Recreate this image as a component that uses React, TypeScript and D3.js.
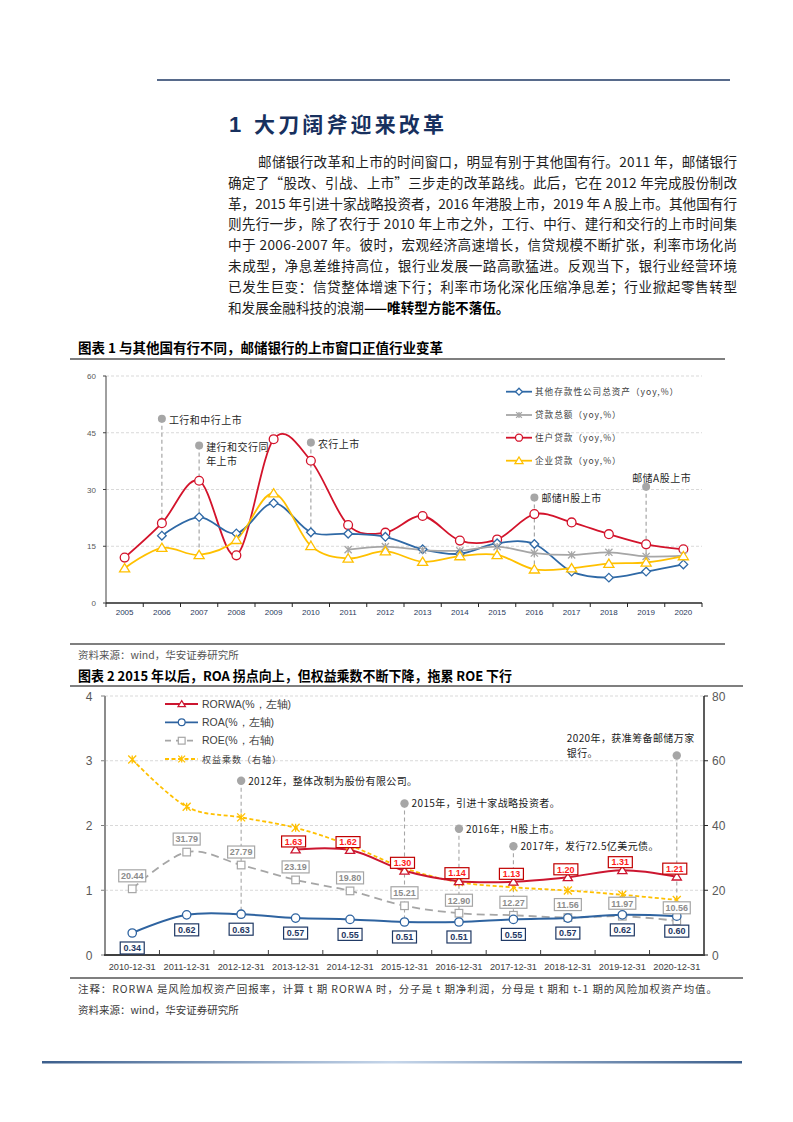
import React from 'react';
import * as d3 from 'd3';

// ---------- Figure 1 data ----------
const years = ['2005','2006','2007','2008','2009','2010','2011','2012','2013','2014','2015','2016','2017','2018','2019','2020'];
const assetsGrowth: (number | null)[] = [null, 17.8, 22.7, 18.4, 26.4, 18.7, 18.3, 17.5, 14.2, 13.0, 15.8, 15.6, 8.3, 6.7, 8.3, 10.2];
const totalLoanGrowth: (number | null)[] = [null, null, null, null, null, null, 14.1, 14.9, 14.0, 13.8, 14.9, 13.2, 12.7, 13.4, 12.3, 12.5];
const householdLoanGrowth: (number | null)[] = [12.0, 21.1, 32.3, 12.6, 43.3, 37.6, 20.6, 18.6, 23.0, 16.5, 16.8, 23.5, 21.3, 18.2, 15.5, 14.2];
const corporateLoanGrowth: (number | null)[] = [9.2, 14.6, 12.7, 16.7, 29.0, 15.1, 11.8, 13.7, 10.9, 12.4, 12.7, 8.9, 9.2, 10.4, 10.7, 12.4];
const yTicks1 = [0, 15, 30, 45, 60];
const legend1 = ['其他存款性公司总资产（yoy,%）', '贷款总额（yoy,%）', '住户贷款（yoy,%）', '企业贷款（yoy,%）'];
const events1 = [
  { year: '2006', dot: 48.7, end: 17.8, lines: ['工行和中行上市'], pos: 'right' },
  { year: '2007', dot: 41.6, end: 12.7, lines: ['建行和交行同', '年上市'], pos: 'right' },
  { year: '2010', dot: 42.4, end: 15.1, lines: ['农行上市'], pos: 'right' },
  { year: '2016', dot: 27.9, end: 8.9, lines: ['邮储H股上市'], pos: 'right' },
  { year: '2019', dot: 30.7, end: 10.7, lines: ['邮储A股上市'], pos: 'above' },
];

// ---------- Figure 2 data ----------
const dates = ['2010-12-31','2011-12-31','2012-12-31','2013-12-31','2014-12-31','2015-12-31','2016-12-31','2017-12-31','2018-12-31','2019-12-31','2020-12-31'];
const rorwa: (number | null)[] = [null, null, null, 1.63, 1.62, 1.30, 1.14, 1.13, 1.20, 1.31, 1.21];
const roa: number[] = [0.34, 0.62, 0.63, 0.57, 0.55, 0.51, 0.51, 0.55, 0.57, 0.62, 0.60];
const roe: number[] = [20.44, 31.79, 27.79, 23.19, 19.80, 15.21, 12.90, 12.27, 11.56, 11.97, 10.56];
const equityMultiplier: number[] = [60.4, 45.8, 42.5, 39.3, 33.8, 26.8, 22.5, 20.9, 19.9, 18.6, 17.0];
const yTicksL = [0, 1, 2, 3, 4];
const yTicksR = [0, 20, 40, 60, 80];
const legend2 = ['RORWA(%，左轴)', 'ROA(%，左轴)', 'ROE(%，右轴)', '权益乘数（右轴）'];
const events2 = [
  { date: '2012-12-31', dot: 2.69, lines: ['2012年，整体改制为股份有限公司。'], pos: 'right' },
  { date: '2015-12-31', dot: 2.34, lines: ['2015年，引进十家战略投资者。'], pos: 'right' },
  { date: '2016-12-31', dot: 1.95, lines: ['2016年，H股上市。'], pos: 'right' },
  { date: '2017-12-31', dot: 1.68, lines: ['2017年，发行72.5亿美元债。'], pos: 'right' },
  { date: '2020-12-31', dot: 3.08, lines: ['2020年，获准筹备邮储万家', '银行。'], pos: 'left' },
];

// ---------- text ----------
const paragraph = [
  '邮储银行改革和上市的时间窗口，明显有别于其他国有行。2011 年，邮储银行',
  '确定了“股改、引战、上市”三步走的改革路线。此后，它在 2012 年完成股份制改',
  '革，2015 年引进十家战略投资者，2016 年港股上市，2019 年 A 股上市。其他国有行',
  '则先行一步，除了农行于 2010 年上市之外，工行、中行、建行和交行的上市时间集',
  '中于 2006-2007 年。彼时，宏观经济高速增长，信贷规模不断扩张，利率市场化尚',
  '未成型，净息差维持高位，银行业发展一路高歌猛进。反观当下，银行业经营环境',
  '已发生巨变：信贷整体增速下行；利率市场化深化压缩净息差；行业掀起零售转型',
];

const CJK = '"Noto Sans CJK SC", "Noto Sans", sans-serif';
const SANS = '"Liberation Sans", Arial, sans-serif';

type MK = 'circle' | 'diamond' | 'triangle' | 'star' | 'square';

function Marker({ type, x, y, s, color, sw = 1.3 }: { type: MK; x: number; y: number; s: number; color: string; sw?: number }) {
  if (type === 'circle') return <circle cx={x} cy={y} r={s} fill="#fff" stroke={color} strokeWidth={sw} />;
  if (type === 'diamond')
    return <path d={`M${x},${y - s}L${x + s},${y}L${x},${y + s}L${x - s},${y}Z`} fill="#fff" stroke={color} strokeWidth={sw} />;
  if (type === 'triangle')
    return <path d={`M${x},${y - s}L${x + s * 1.1},${y + s * 0.8}L${x - s * 1.1},${y + s * 0.8}Z`} fill="#fff" stroke={color} strokeWidth={sw} />;
  if (type === 'square') return <rect x={x - s} y={y - s} width={2 * s} height={2 * s} fill="#fff" stroke={color} strokeWidth={sw} />;
  return (
    <path
      d={`M${x - s},${y - s}L${x + s},${y + s}M${x - s},${y + s}L${x + s},${y - s}M${x},${y - s}L${x},${y + s}`}
      fill="none"
      stroke={color}
      strokeWidth={sw}
    />
  );
}

function Figure1() {
  const x = d3.scaleBand<string>().domain(years).range([106, 702]);
  const bw = x.bandwidth();
  const cx = (k: string) => (x(k) as number) + bw / 2;
  const y = d3.scaleLinear().domain([0, 60]).range([603, 376]);
  const line = d3
    .line<[string, number | null]>()
    .defined((d) => d[1] != null)
    .x((d) => cx(d[0]))
    .y((d) => y(d[1] as number))
    .curve(d3.curveCardinal.tension(0));
  const series = [
    { vals: assetsGrowth, color: '#2F69A6', mk: 'diamond' as MK, s: 4.3 },
    { vals: totalLoanGrowth, color: '#A6A6A6', mk: 'star' as MK, s: 3.6 },
    { vals: householdLoanGrowth, color: '#D3132B', mk: 'circle' as MK, s: 4.4 },
    { vals: corporateLoanGrowth, color: '#FFC000', mk: 'triangle' as MK, s: 4.6 },
  ];
  const draw = [2, 0, 1, 3];
  return (
    <g>
      {yTicks1.slice(1).map((t) => (
        <line key={t} x1={106} x2={702} y1={y(t)} y2={y(t)} stroke="#D9D9D9" strokeDasharray="3,2" strokeWidth={1} />
      ))}
      {yTicks1.map((t) => (
        <g key={'yl' + t}>
          <line x1={103} x2={106} y1={y(t)} y2={y(t)} stroke="#404040" />
          <text x={96} y={y(t) + 3} textAnchor="end" fontFamily={SANS} fontSize={8} fill="#595959">{t}</text>
        </g>
      ))}
      <line x1={106} x2={106} y1={376} y2={603} stroke="#404040" strokeWidth={1} />
      <line x1={106} x2={702} y1={603} y2={603} stroke="#262626" strokeWidth={1.5} />
      {d3.range(years.length + 1).map((i) => (
        <line key={'xt' + i} x1={106 + i * bw} x2={106 + i * bw} y1={603} y2={607} stroke="#262626" />
      ))}
      {years.map((yr) => (
        <text key={yr} x={cx(yr)} y={614.5} textAnchor="middle" fontFamily={SANS} fontSize={8} fill="#2A3A5C">{yr}</text>
      ))}
      {events1.map((e) => (
        <g key={'ev' + e.year}>
          <line x1={cx(e.year)} x2={cx(e.year)} y1={y(e.dot)} y2={y(e.end)} stroke="#A6A6A6" strokeDasharray="4,3" strokeWidth={1.2} />
          <circle cx={cx(e.year)} cy={y(e.dot)} r={4} fill="#A6A6A6" />
          {e.lines.map((l, i) => (
            <text
              key={i}
              x={e.pos === 'above' ? cx(e.year) - 14 : cx(e.year) + 7}
              y={e.pos === 'above' ? y(e.dot) - 5 : y(e.dot) + 5 + i * 14}
              fontFamily={CJK}
              fontSize={10}
              letterSpacing={0.5}
              fill="#262626"
            >
              {l}
            </text>
          ))}
        </g>
      ))}
      {draw.map((si) => {
        const s = series[si];
        const data = years.map((yr, i) => [yr, s.vals[i]] as [string, number | null]);
        return <path key={'l' + si} d={line(data) || ''} fill="none" stroke={s.color} strokeWidth={1.8} />;
      })}
      {draw.map((si) => {
        const s = series[si];
        return (
          <g key={'m' + si}>
            {years.map((yr, i) =>
              s.vals[i] == null ? null : <Marker key={yr} type={s.mk} x={cx(yr)} y={y(s.vals[i] as number)} s={s.s} color={s.color} />
            )}
          </g>
        );
      })}
      {legend1.map((lab, i) => {
        const s = series[i];
        const ry = [391.7, 415, 437.7, 460.7][i];
        return (
          <g key={'lg' + i}>
            <line x1={506} x2={532} y1={ry} y2={ry} stroke={s.color} strokeWidth={1.8} />
            <Marker type={s.mk} x={519} y={ry} s={s.s * 0.8} color={s.color} />
            <text x={535} y={ry + 3} fontFamily={CJK} fontSize={8.6} letterSpacing={1} fill="#404040">{lab}</text>
          </g>
        );
      })}
    </g>
  );
}

function LabelBox({ x, y, w, h, text, color, border }: { x: number; y: number; w: number; h: number; text: string; color: string; border: string }) {
  return (
    <g>
      <rect x={x - w / 2} y={y - h / 2} width={w} height={h} fill="#fff" stroke={border} strokeWidth={1.2} />
      <text x={x} y={y + 3.3} textAnchor="middle" fontFamily={SANS} fontSize={9} fontWeight={700} fill={color}>{text}</text>
    </g>
  );
}

function Figure2() {
  const x = d3.scaleBand<string>().domain(dates).range([105, 704]);
  const bw = x.bandwidth();
  const cx = (k: string) => (x(k) as number) + bw / 2;
  const yL = d3.scaleLinear().domain([0, 4]).range([955, 696]);
  const yR = d3.scaleLinear().domain([0, 80]).range([955, 696]);
  const mkLine = (ys: (v: number) => number) =>
    d3
      .line<[string, number | null]>()
      .defined((d) => d[1] != null)
      .x((d) => cx(d[0]))
      .y((d) => ys(d[1] as number))
      .curve(d3.curveCardinal.tension(0));
  const lineL = mkLine(yL);
  const lineR = mkLine(yR);
  const RED = '#CC1630';
  const BLUE = '#2E63A0';
  const GRAY = '#A6A6A6';
  const YEL = '#FFC000';
  const NAVY = '#1F3864';
  const pair = (vals: (number | null)[]) => dates.map((d, i) => [d, vals[i]] as [string, number | null]);
  return (
    <g>
      {yTicksL.slice(1).map((t) => (
        <line key={t} x1={105} x2={704} y1={yL(t)} y2={yL(t)} stroke="#D9D9D9" strokeDasharray="3,2" strokeWidth={1} />
      ))}
      {yTicksL.map((t) => (
        <g key={'l' + t}>
          <line x1={101} x2={105} y1={yL(t)} y2={yL(t)} stroke="#808080" />
          <text x={89} y={yL(t) + 4.5} textAnchor="middle" fontFamily={SANS} fontSize={12} fill="#595959">{t}</text>
        </g>
      ))}
      {yTicksR.map((t) => (
        <g key={'r' + t}>
          <line x1={704} x2={708} y1={yR(t)} y2={yR(t)} stroke="#262626" />
          <text x={712} y={yR(t) + 4.5} fontFamily={SANS} fontSize={12} fill="#595959">{t}</text>
        </g>
      ))}
      <line x1={105} x2={105} y1={696} y2={955} stroke="#8C8C8C" strokeWidth={2} />
      <line x1={704} x2={704} y1={696} y2={955} stroke="#262626" strokeWidth={1.5} />
      <line x1={104} x2={705} y1={955} y2={955} stroke="#404040" strokeWidth={2} />
      {d3.range(1, dates.length).map((i) => (
        <line key={'xt' + i} x1={105 + i * bw} x2={105 + i * bw} y1={955} y2={950} stroke="#404040" />
      ))}
      {dates.map((d) => (
        <text key={d} x={cx(d)} y={970} textAnchor="middle" fontFamily={SANS} fontSize={9.2} fill="#404040">{d}</text>
      ))}
      {events2.map((e) => {
        const i = dates.indexOf(e.date);
        const px = cx(e.date);
        const py = yL(e.dot);
        return (
          <g key={'e' + e.date}>
            <line x1={px} x2={px} y1={py} y2={yL(roa[i])} stroke="#A6A6A6" strokeDasharray="4,3" strokeWidth={1.1} />
            <circle cx={px} cy={py} r={4.2} fill="#A6A6A6" />
            {e.lines.map((l, k) => (
              <text
                key={k}
                x={e.pos === 'left' ? px - 110 : px + 7}
                y={e.pos === 'left' ? py - 13.5 + k * 15 : py + 3.8}
                fontFamily={CJK}
                fontSize={10}
                letterSpacing={0.4}
                fill="#1A1A1A"
              >
                {l}
              </text>
            ))}
          </g>
        );
      })}
      <path d={lineR(pair(roe)) || ''} fill="none" stroke={GRAY} strokeWidth={1.8} strokeDasharray="8,5" />
      <path d={lineR(pair(equityMultiplier)) || ''} fill="none" stroke={YEL} strokeWidth={1.8} strokeDasharray="4,2.5" />
      <path d={lineL(pair(roa)) || ''} fill="none" stroke={BLUE} strokeWidth={2} />
      <path d={lineL(pair(rorwa)) || ''} fill="none" stroke={RED} strokeWidth={2} />
      {dates.map((d, i) => (
        <Marker key={'mr' + d} type="square" x={cx(d)} y={yR(roe[i])} s={3.8} color={GRAY} sw={1.2} />
      ))}
      {dates.map((d, i) => (
        <Marker key={'me' + d} type="star" x={cx(d)} y={yR(equityMultiplier[i])} s={4} color={YEL} sw={1.3} />
      ))}
      {dates.map((d, i) => (
        <Marker key={'ma' + d} type="circle" x={cx(d)} y={yL(roa[i])} s={4.2} color={BLUE} sw={1.3} />
      ))}
      {dates.map((d, i) =>
        rorwa[i] == null ? null : <Marker key={'mw' + d} type="triangle" x={cx(d)} y={yL(rorwa[i] as number)} s={4.2} color={RED} sw={1.3} />
      )}
      {dates.map((d, i) => (
        <LabelBox key={'bo' + d} x={cx(d)} y={yR(roe[i]) - 13} w={27} h={12} text={roe[i].toFixed(2)} color="#8C8C8C" border="#A6A6A6" />
      ))}
      {dates.map((d, i) => (
        <LabelBox key={'ba' + d} x={cx(d)} y={yL(roa[i]) + 15} w={24} h={12} text={roa[i].toFixed(2)} color={NAVY} border={NAVY} />
      ))}
      {dates.map((d, i) =>
        rorwa[i] == null ? null : (
          <LabelBox key={'bw' + d} x={cx(d) - 2} y={yL(rorwa[i] as number) - 8} w={24} h={11} text={(rorwa[i] as number).toFixed(2)} color="#FF1A1A" border="#C00000" />
        )
      )}
      {legend2.map((lab, i) => {
        const ry = [704, 722.3, 740.7, 759][i];
        const cfg = [
          { c: RED, mk: 'triangle' as MK, dash: undefined as string | undefined },
          { c: BLUE, mk: 'circle' as MK, dash: undefined },
          { c: GRAY, mk: 'square' as MK, dash: '6,5' },
          { c: YEL, mk: 'star' as MK, dash: '4,2.5' },
        ][i];
        return (
          <g key={'lg' + i}>
            <line x1={165} x2={198} y1={ry} y2={ry} stroke={cfg.c} strokeWidth={1.8} strokeDasharray={cfg.dash} />
            <Marker type={cfg.mk} x={181.7} y={ry} s={3.4} color={cfg.c} sw={1.2} />
            <text x={202} y={ry + 3.6} fontFamily={i < 3 ? SANS : CJK} fontSize={i < 3 ? 10.5 : 9} letterSpacing={i < 3 ? 0 : 1} fill="#404040">{lab}</text>
          </g>
        );
      })}
    </g>
  );
}

export default function App() {
  return (
    <svg width={793} height={1122} viewBox="0 0 793 1122" style={{ position: 'absolute', left: 0, top: 0, background: '#fff' }}>
      <defs>
        <linearGradient id="footGrad" x1="0" x2="1" y1="0" y2="0">
          <stop offset="0" stopColor="#3B5E8C" />
          <stop offset="0.5" stopColor="#C6D6EA" />
          <stop offset="1" stopColor="#3B5E8C" />
        </linearGradient>
      </defs>
      <rect x={0} y={0} width={793} height={1122} fill="#fff" />
      <line x1={157} x2={730} y1={80} y2={80} stroke="#1F3864" strokeWidth={1.5} />
      <text x={229} y={132} fontFamily={SANS} fontSize={22} fontWeight={700} fill="#17305E">1</text>
      <text x={254} y={132} fontFamily={CJK} fontSize={21} fontWeight={700} fill="#17305E" textLength={190} lengthAdjust="spacing">大刀阔斧迎来改革</text>
      {paragraph.map((l, i) => (
        <text
          key={i}
          x={i === 0 ? 258 : 228}
          y={167 + i * 20.8}
          fontFamily={CJK}
          fontSize={13.6}
          fill="#1E1E1E"
          textLength={i === 0 ? 479 : 509}
          lengthAdjust="spacing"
        >
          {l}
        </text>
      ))}
      <text x={228} y={167 + 7 * 20.8} fontFamily={CJK} fontSize={13.6} fill="#1E1E1E">
        和发展金融科技的浪潮<tspan fontWeight={700} fill="#000">——唯转型方能不落伍。</tspan>
      </text>

      <text x={78} y={353} fontFamily={CJK} fontSize={13.5} fontWeight={700} fill="#000">图表 1 与其他国有行不同，邮储银行的上市窗口正值行业变革</text>
      <line x1={70} x2={725} y1={359} y2={359} stroke="#000" strokeWidth={1.2} />
      <Figure1 />
      <line x1={70} x2={725} y1={644} y2={644} stroke="#000" strokeWidth={1.2} />
      <text x={78} y={659} fontFamily={CJK} fontSize={10.5} fill="#555">资料来源：wind，华安证券研究所</text>

      <text x={78} y={681} fontFamily={CJK} fontSize={13.5} fontWeight={700} fill="#000" textLength={434} lengthAdjust="spacingAndGlyphs">图表 2 2015 年以后，ROA 拐点向上，但权益乘数不断下降，拖累 ROE 下行</text>
      <line x1={70} x2={743} y1={686} y2={686} stroke="#000" strokeWidth={1.2} />
      <Figure2 />
      <line x1={70} x2={743} y1={978} y2={978} stroke="#000" strokeWidth={1.2} />
      <text x={78} y={993} fontFamily={CJK} fontSize={10.5} fill="#3A3A3A" textLength={639} lengthAdjust="spacing">注释：RORWA 是风险加权资产回报率，计算 t 期 RORWA 时，分子是 t 期净利润，分母是 t 期和 t-1 期的风险加权资产均值。</text>
      <text x={78} y={1014} fontFamily={CJK} fontSize={10.5} fill="#3A3A3A">资料来源：wind，华安证券研究所</text>

      <rect x={42} y={1061} width={700} height={2.5} fill="url(#footGrad)" />
    </svg>
  );
}
